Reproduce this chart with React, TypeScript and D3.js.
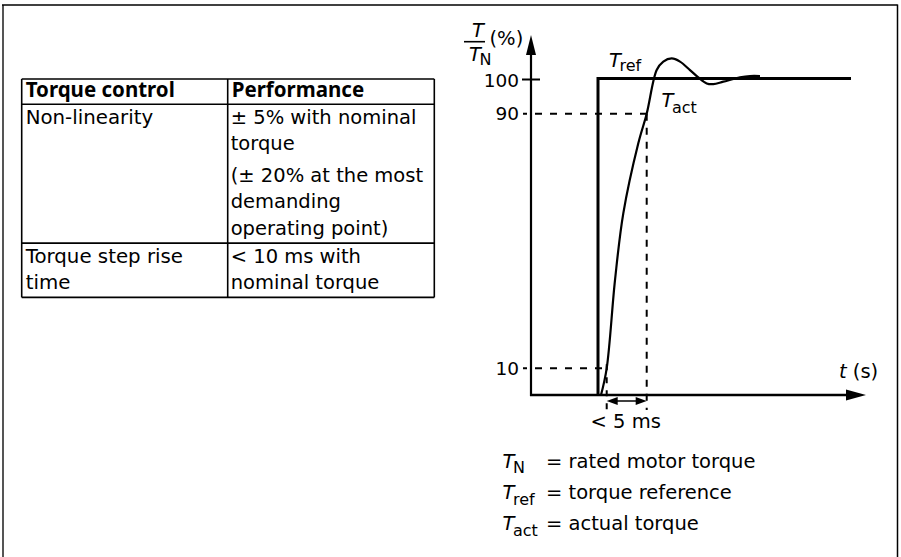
import React, { useEffect, useRef } from 'react';
import * as d3 from 'd3';

// Table content
const tableHeader = ['Torque control', 'Performance'];
const tableLabels = [['Non-linearity'], ['Torque step rise', 'time']];
const tablePerformance = [
  [['± 5% with nominal', 'torque'], ['(± 20% at the most', 'demanding', 'operating point)']],
  [['< 10 ms with', 'nominal torque']],
];

// Chart content (time in ms, torque in % of T_N)
const levelValues = [10, 90, 100];
const levelLabels = ['10', '90', '100'];

const trefTime = [0, 0, 25.3];
const trefValue = [0, 100, 100];

const tactTime = [0.3, 0.87, 1.7, 2.53, 4.03, 4.87, 5.87, 6.53, 7.37, 8.2, 9.2, 10.03, 10.87, 11.53, 12.53, 14.2, 15.2, 16.2];
const tactValue = [0, 10, 37.7, 58.7, 80.7, 90, 102.4, 104.8, 105.7, 104.8, 102.4, 100.3, 98.6, 98.4, 99.1, 100.3, 100.7, 100.7];

const legendSubs = ['N', 'ref', 'act'];
const legendTexts = ['= rated motor torque', '= torque reference', '= actual torque'];

const FONT = '"DejaVu Sans", sans-serif';
const BOLD_FONT = '"Noto Sans", sans-serif';

const App: React.FC = () => {
  const svgRef = useRef<SVGSVGElement | null>(null);

  useEffect(() => {
    if (!svgRef.current) return;
    const svg = d3.select(svgRef.current);
    svg.selectAll('*').remove();

    // Outer frame
    svg.append('line').attr('x1', 3).attr('y1', 5).attr('x2', 3).attr('y2', 557)
      .attr('stroke', '#555').attr('stroke-width', 2);
    svg.append('line').attr('x1', 2).attr('y1', 5).attr('x2', 897.5).attr('y2', 5)
      .attr('stroke', '#000').attr('stroke-width', 1.3);
    svg.append('line').attr('x1', 897.5).attr('y1', 4.5).attr('x2', 897.5).attr('y2', 557)
      .attr('stroke', '#000').attr('stroke-width', 1.5);

    // ---- Table ----
    const colX = [21.7, 227.7, 434.3];
    const tableTop = 79;
    const headerBottom = 104.3;
    const lineH = 26.5;
    const paraGap = 5;
    const table = svg.append('g');

    table.selectAll('text.head')
      .data(tableHeader)
      .join('text')
      .attr('class', 'head')
      .attr('x', (_, i) => colX[i] + 4)
      .attr('y', 96.7)
      .attr('font-family', BOLD_FONT)
      .attr('font-weight', 700)
      .attr('font-size', 20.5)
      .text((d) => d);

    let rowTop = headerBottom;
    const rowLines: number[] = [tableTop, headerBottom];
    tableLabels.forEach((label, r) => {
      const first = rowTop + 19.5;
      label.forEach((line, k) => {
        table.append('text').attr('x', colX[0] + 4).attr('y', first + k * lineH)
          .attr('font-family', FONT).attr('font-size', 19.8).text(line);
      });
      let last = first + (label.length - 1) * lineH;
      let idx = 0;
      tablePerformance[r].forEach((para, p) => {
        para.forEach((line) => {
          const y = first + idx * lineH + p * paraGap;
          table.append('text').attr('x', colX[1] + 3).attr('y', y)
            .attr('font-family', FONT).attr('font-size', 19.5).text(line);
          last = Math.max(last, y);
          idx += 1;
        });
      });
      rowTop = last + 8.3;
      rowLines.push(rowTop);
    });

    table.selectAll('line.h')
      .data(rowLines)
      .join('line')
      .attr('class', 'h')
      .attr('x1', colX[0]).attr('x2', colX[2])
      .attr('y1', (d) => d).attr('y2', (d) => d)
      .attr('stroke', '#000').attr('stroke-width', 1.6);
    table.selectAll('line.v')
      .data(colX)
      .join('line')
      .attr('class', 'v')
      .attr('x1', (d) => d).attr('x2', (d) => d)
      .attr('y1', tableTop).attr('y2', rowTop)
      .attr('stroke', '#000').attr('stroke-width', 1.6);

    // ---- Step response chart ----
    const x = d3.scaleLinear().domain([-6.7, 26.8]).range([531, 866]);
    const y = d3.scaleLinear().domain([0, 10, 90, 100]).range([395, 368.3, 113.7, 78.5]);
    const chart = svg.append('g');

    // Dashed helper lines
    const riseStart = tactTime[1];
    const riseEnd = tactTime[5];
    chart.append('line').attr('x1', 523).attr('x2', x(riseEnd)).attr('y1', y(90)).attr('y2', y(90))
      .attr('stroke', '#000').attr('stroke-width', 2).attr('stroke-dasharray', '7 8').attr('stroke-dashoffset', 3);
    chart.append('line').attr('x1', 523).attr('x2', x(riseStart)).attr('y1', y(10)).attr('y2', y(10))
      .attr('stroke', '#000').attr('stroke-width', 2).attr('stroke-dasharray', '7 8').attr('stroke-dashoffset', 3);
    chart.append('line').attr('x1', x(riseEnd)).attr('x2', x(riseEnd)).attr('y1', y(90)).attr('y2', 410)
      .attr('stroke', '#000').attr('stroke-width', 2).attr('stroke-dasharray', '7 7');
    chart.append('line').attr('x1', x(riseStart)).attr('x2', x(riseStart)).attr('y1', y(10) - 4).attr('y2', 410)
      .attr('stroke', '#000').attr('stroke-width', 2).attr('stroke-dasharray', '6 7');

    // Axes
    const x0 = x(-6.7);
    const y0 = y(0);
    chart.append('line').attr('x1', x0).attr('x2', x0).attr('y1', y0 + 1).attr('y2', 50)
      .attr('stroke', '#000').attr('stroke-width', 2.2);
    chart.append('path').attr('d', `M${x0},35 L${x0 - 5},55 L${x0 + 5},55 Z`).attr('fill', '#000');
    chart.append('line').attr('x1', x0 - 1).attr('x2', 850).attr('y1', y0).attr('y2', y0)
      .attr('stroke', '#000').attr('stroke-width', 2.4);
    chart.append('path').attr('d', `M866,${y0} L846,${y0 - 5.5} L846,${y0 + 5.5} Z`).attr('fill', '#000');
    chart.append('line').attr('x1', x0 - 9).attr('x2', x0 + 9).attr('y1', y(100) + 1).attr('y2', y(100) + 1)
      .attr('stroke', '#000').attr('stroke-width', 2);

    chart.selectAll('text.level')
      .data(levelValues)
      .join('text')
      .attr('class', 'level')
      .attr('x', 519)
      .attr('y', (d) => y(d) + (d === 100 ? 8.5 : 6.7))
      .attr('text-anchor', 'end')
      .attr('font-family', FONT)
      .attr('font-size', 18.5)
      .text((_, i) => levelLabels[i]);

    // Tref and Tact curves
    const lineGen = d3.line<[number, number]>()
      .x((d) => x(d[0]))
      .y((d) => y(d[1]));
    const trefPts = trefTime.map((t, i) => [t, trefValue[i]] as [number, number]);
    chart.append('path').datum(trefPts).attr('d', lineGen)
      .attr('fill', 'none').attr('stroke', '#000').attr('stroke-width', 3).attr('stroke-linejoin', 'miter');
    const tactPts = tactTime.map((t, i) => [t, tactValue[i]] as [number, number]);
    chart.append('path').datum(tactPts).attr('d', lineGen.curve(d3.curveCatmullRom.alpha(0.5)))
      .attr('fill', 'none').attr('stroke', '#000').attr('stroke-width', 2.2);

    // Rise-time double arrow
    const ay = 401;
    const ax1 = x(riseStart);
    const ax2 = x(riseEnd);
    chart.append('line').attr('x1', ax1 + 6).attr('x2', ax2 - 6).attr('y1', ay).attr('y2', ay)
      .attr('stroke', '#000').attr('stroke-width', 1.5);
    chart.append('path').attr('d', `M${ax1},${ay} L${ax1 + 11},${ay - 4} L${ax1 + 11},${ay + 4} Z`).attr('fill', '#000');
    chart.append('path').attr('d', `M${ax2},${ay} L${ax2 - 11},${ay - 4} L${ax2 - 11},${ay + 4} Z`).attr('fill', '#000');
    chart.append('text').attr('x', (ax1 + ax2) / 2 - 1).attr('y', 428.3).attr('text-anchor', 'middle')
      .attr('font-family', FONT).attr('font-size', 19.5).text('< 5 ms');

    // Helper for T with subscript
    const symbol = (g: d3.Selection<SVGGElement, unknown, null, undefined>, tx: number, ty: number, sub: string, subDy: number) => {
      const t = g.append('text').attr('x', tx).attr('y', ty).attr('font-family', FONT).attr('font-size', 19.5);
      t.append('tspan').attr('font-style', 'italic').text('T');
      t.append('tspan').attr('dx', -1.5).attr('dy', subDy).attr('font-size', 16).text(sub);
    };

    // Y axis label T / T_N (%)
    chart.append('text').attr('x', 478).attr('y', 36.5).attr('text-anchor', 'middle')
      .attr('font-family', FONT).attr('font-size', 19.5).attr('font-style', 'italic').text('T');
    chart.append('line').attr('x1', 464).attr('x2', 485).attr('y1', 41.7).attr('y2', 41.7)
      .attr('stroke', '#000').attr('stroke-width', 1.6);
    symbol(chart, 469, 61, 'N', 4);
    chart.append('text').attr('x', 489.5).attr('y', 45).attr('font-family', FONT).attr('font-size', 19.5).text('(%)');

    // Curve labels
    symbol(chart, 609, 66.7, 'ref', 4);
    symbol(chart, 661.5, 107, 'act', 6);

    // t (s)
    const tl = chart.append('text').attr('x', 839).attr('y', 378).attr('font-family', FONT).attr('font-size', 19.5);
    tl.append('tspan').attr('font-style', 'italic').text('t');
    tl.append('tspan').text(' (s)');

    // Legend
    const legendY = [468, 499, 530];
    legendSubs.forEach((sub, i) => {
      symbol(chart, 502.5, legendY[i], sub, sub === 'N' ? 4.5 : 5.5);
      chart.append('text').attr('x', 546).attr('y', legendY[i]).attr('font-family', FONT)
        .attr('font-size', 19.5).text(legendTexts[i]);
    });
  }, []);

  return (
    <svg
      ref={svgRef}
      width={901}
      height={557}
      style={{ position: 'absolute', left: 0, top: 0, background: '#fff' }}
    />
  );
};

export default App;
